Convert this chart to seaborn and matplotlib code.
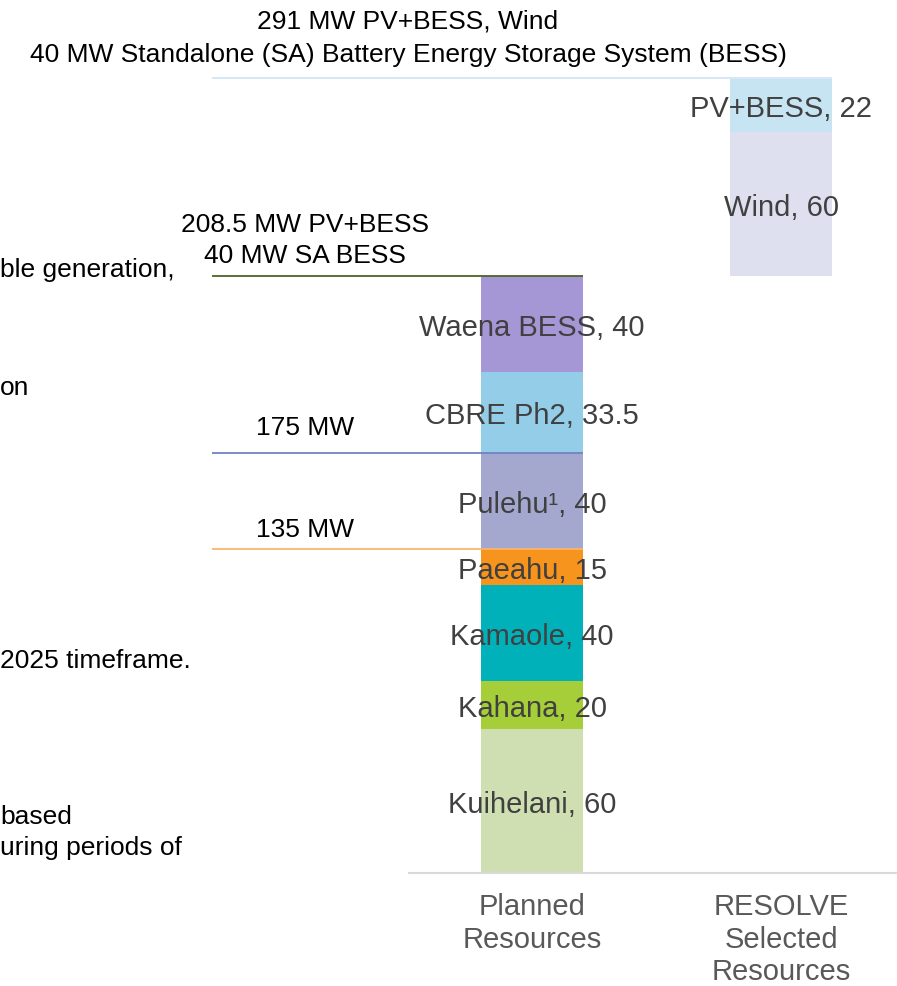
import pandas as pd
import matplotlib.pyplot as plt
import seaborn as sns

categories = ["Planned\nResources", "RESOLVE\nSelected\nResources"]

planned_names = ["Kuihelani", "Kahana", "Kamaole", "Paeahu", "Pulehu¹", "CBRE Ph2", "Waena BESS"]
planned_mw = [60, 20, 40, 15, 40, 33.5, 40]
planned_colors = ["#cfdfb1", "#a6ce39", "#00b1b9", "#f7941d", "#a4a8cf", "#93cde8", "#a596d6"]

resolve_names = ["Wind", "PV+BESS"]
resolve_mw = [60, 22]
resolve_colors = ["#dfe0ef", "#c7e4f2"]

# target levels (MW) drawn as lines with labels
target_mw = [135, 175, 248.5, 331]
target_labels = [
    "135 MW",
    "175 MW",
    "208.5 MW PV+BESS\n40 MW SA BESS",
    "291 MW PV+BESS, Wind\n40 MW Standalone (SA) Battery Energy Storage System (BESS)",
]
target_colors = ["#fbb46b", "#7282c4", "#4f6228", "#d2e6f4"]

# cut-off slide text on the left edge
side_notes = ["ble generation,", "on", "2025 timeframe.", "based", "uring periods of"]

# build stacked table
rows = []
bottom = 0
for name, mw, col in zip(planned_names, planned_mw, planned_colors):
    rows.append((categories[0], name, mw, bottom, col))
    bottom += mw
for name, mw, col in zip(resolve_names, resolve_mw, resolve_colors):
    rows.append((categories[1], name, mw, bottom, col))
    bottom += mw
df = pd.DataFrame(rows, columns=["category", "resource", "mw", "bottom", "color"])

sns.set_style("white")
plt.rcParams["font.family"] = ["Liberation Sans", "DejaVu Sans"]

W, H = 897, 987
fig = plt.figure(figsize=(W / 100, H / 100), dpi=100)
ax = fig.add_axes([0, 1 - 874 / H, 1, 874 / H])

bar_w = 0.406
for r in df.itertuples():
    sns.barplot(x=[r.category], y=[r.mw], order=categories, bottom=r.bottom,
                color=r.color, saturation=1, width=bar_w, linewidth=0,
                errorbar=None, ax=ax)
    pos = categories.index(r.category)
    ax.text(pos, r.bottom + r.mw / 2, f"{r.resource}, {r.mw:g}",
            ha="center", va="center_baseline", fontsize=21, color="#404040")

# target lines
line_left = -1.285
label_x = [-0.91, -0.91, -0.91, -0.498]
label_off = [14.4, 18.7, 26.5, 29.5]
label_spacing = [1.2, 1.2, 1.35, 1.5]
for i, (lvl, lab, col) in enumerate(zip(target_mw, target_labels, target_colors)):
    right = (1 if i == len(target_mw) - 1 else 0) + bar_w / 2
    ax.hlines(lvl, line_left, right, color=col, lw=1.3, zorder=3)
    ax.annotate(lab, xy=(label_x[i], lvl), xytext=(0, label_off[i]),
                textcoords="offset points", ha="center", va="center",
                fontsize=19, color="black", linespacing=label_spacing[i])

# baseline
ax.hlines(0, -0.5, 2, color="#d9d9d9", lw=1.5, clip_on=False)

ax.set_xlim(-532 / 249, 365 / 249)
ax.set_ylim(0, 874 / 2.4024)
ax.set_yticks([])
ax.set_xlabel("")
ax.set_ylabel("")
sns.despine(ax=ax, left=True, bottom=True)
ax.tick_params(axis="x", length=0, pad=14, labelsize=21, labelcolor="#595959")
for lbl in ax.get_xticklabels():
    lbl.set_linespacing(1.2)

note_y = [270, 388, 661, 817, 848]
for txt, y in zip(side_notes, note_y):
    fig.text(0, 1 - y / H, txt, ha="left", va="center", fontsize=19, color="black")

fig.savefig("out.png", dpi=100)
